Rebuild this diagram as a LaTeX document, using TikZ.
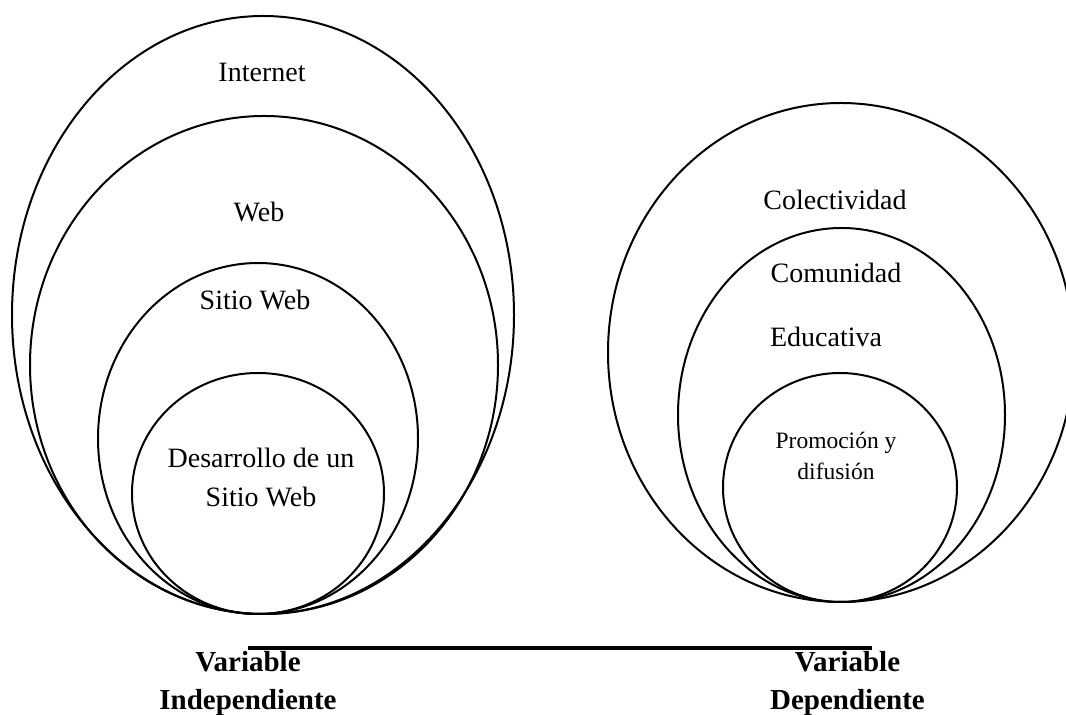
\documentclass[tikz,border=0pt]{standalone}
\usepackage{fontspec}
\setmainfont{Liberation Serif}

\begin{document}
\begin{tikzpicture}[x=0.5pt, y=-0.5pt,
		ring/.style={line width=1pt},
		lbl/.style={anchor=base, inner sep=0pt, font=\fontsize{14}{17}\selectfont},
		small/.style={anchor=base, inner sep=0pt, font=\fontsize{11.75}{14}\selectfont},
		var/.style={anchor=base, inner sep=0pt, font=\fontsize{14.5}{17}\selectfont\bfseries}]
		\useasboundingbox (0,0) rectangle (1066,715);
		
		% variable independiente
		\foreach \cx/\cy/\rx/\ry in {263/315/251/299, 264/365/234/249, 258/438.5/160/175.5, 258/493.5/126/120.5}
			\draw[ring] (\cx,\cy) ellipse [x radius=\rx, y radius=\ry];
		
		\node[lbl] (internet) at (262,82) {Internet};
		\node[lbl] (web) at (259,222) {Web};
		\node[lbl] (sitio) at (255,310) {Sitio Web};
		\node[lbl] (desarrollo) at (261,468) {Desarrollo de un};
		\node[lbl] (desarrollob) at (261,507) {Sitio Web};
		
		% variable dependiente
		\foreach \cx/\cy/\rx/\ry in {841/352.5/233/249.5, 841.5/415/163.5/187, 840/487.5/117/114.5}
			\draw[ring] (\cx,\cy) ellipse [x radius=\rx, y radius=\ry];
		
		\node[lbl] (colectividad) at (835,210) {Colectividad};
		\node[lbl] (comunidad) at (836,283) {Comunidad};
		\node[lbl] (educativa) at (826,347) {Educativa};
		\node[small] (promocion) at (836,449) {Promoción y};
		\node[small] (difusion) at (836,480) {difusión};
		
		% eje
		\coordinate (ejeA) at (248,648);
		\coordinate (ejeB) at (872,648);
		\draw[line width=2pt] (ejeA) -- (ejeB);
		
		\node[var] (varA) at (248,672) {Variable};
		\node[var] (varAb) at (248,710) {Independiente};
		\node[var] (varB) at (847.5,672) {Variable};
		\node[var] (varBb) at (847.5,710) {Dependiente};
\end{tikzpicture}
\end{document}
